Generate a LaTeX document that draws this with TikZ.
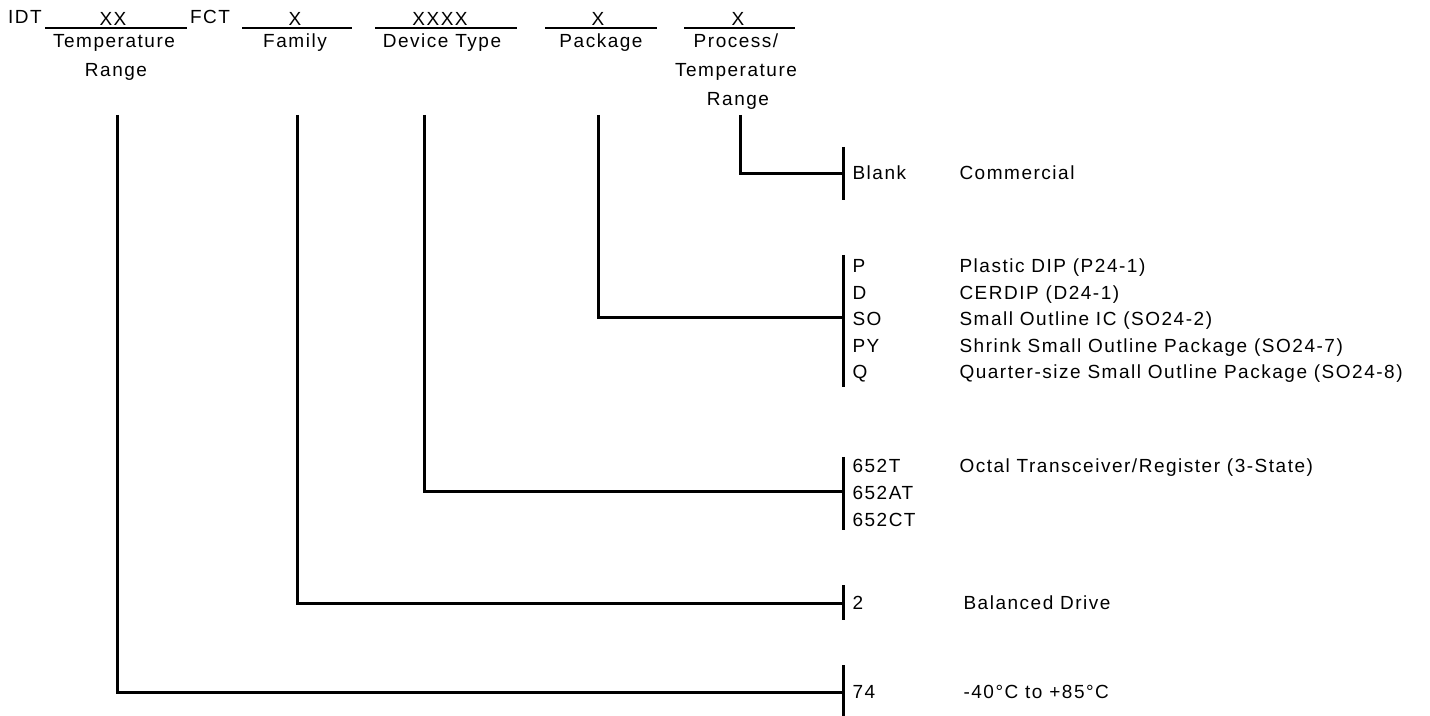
\documentclass[tikz,border=0pt]{standalone}
\usepackage{fontspec}
\setmainfont{Liberation Sans}[LetterSpace=8]
\usepackage{tikz}
\usetikzlibrary{positioning,calc}

\begin{document}
\begin{tikzpicture}[x=0.5pt, y=-0.5pt, font=\fontsize{9.5}{12}\selectfont, line width=1.5pt,
  txt/.style={anchor=base, inner sep=0pt},
  code/.style={anchor=base west, inner sep=0pt},
  uline/.style={line width=1pt},
  wire/.style={line width=1.5pt}]
\useasboundingbox (0,0) rectangle (1430,716);
%% part number fields
\node[txt] (idt) at (25,24) {IDT};
\node[txt] (fct) at (210,24) {FCT};
\draw[uline] (45,28) -- (187,28);
\draw[uline] (242,28) -- (352,28);
\draw[uline] (375,28) -- (517,28);
\draw[uline] (545,28) -- (657,28);
\draw[uline] (684,28) -- (795,28);
\node[txt] (fTR) at (113,26) {XX};
\node[txt] (fFam) at (295,26) {X};
\node[txt] (fDev) at (440,26) {XXXX};
\node[txt] (fPkg) at (598,26) {X};
\node[txt] (fProc) at (738,26) {X};
\node[txt] (lTR1) at (114,48) {Temperature};
\node[txt] (lTR2) at (116,77) {Range};
\node[txt] (lFam) at (295,48) {Family};
\node[txt] (lDev) at (442,48) {Device Type};
\node[txt] (lPkg) at (601,48) {Package};
\node[txt] (lProc1) at (736,48) {Process/};
\node[txt] (lProc2) at (736,77) {Temperature};
\node[txt] (lProc3) at (738,106) {Range};
%% drops and brackets
\coordinate (vTR) at (117,115);
\coordinate (vFam) at (297,115);
\coordinate (vDev) at (424,115);
\coordinate (vPkg) at (598,115);
\coordinate (vProc) at (740,115);
\coordinate (kProc) at (843,174);
\coordinate (kPkg) at (843,318);
\coordinate (kDev) at (843,492);
\coordinate (kFam) at (843,603);
\coordinate (kTR) at (843,692);
\draw[wire] (vProc) |- (kProc);
\draw[wire] (vPkg) |- (kPkg);
\draw[wire] (vDev) |- (kDev);
\draw[wire] (vFam) |- (kFam);
\draw[wire] (vTR) |- (kTR);
\draw[wire] ($(kProc)+(0,-27)$) -- ($(kProc)+(0,26)$);
\draw[wire] ($(kPkg)+(0,-63)$) -- ($(kPkg)+(0,69)$);
\draw[wire] ($(kDev)+(0,-35)$) -- ($(kDev)+(0,38)$);
\draw[wire] ($(kFam)+(0,-18)$) -- ($(kFam)+(0,17)$);
\draw[wire] ($(kTR)+(0,-27)$) -- ($(kTR)+(0,27)$);
%% codes
\node[code] (cBlank) at (851,180) {Blank};
\node[code] (dBlank) at (958,180) {Commercial};
\node[code] (cP) at (851,273) {P};
\node[code] (dP) at (958,273) {Plastic DIP (P24-1)};
\node[code] (cD) at (851,299.5) {D};
\node[code] (dD) at (958,299.5) {CERDIP (D24-1)};
\node[code] (cSO) at (851,326) {SO};
\node[code] (dSO) at (958,326) {Small Outline IC (SO24-2)};
\node[code] (cPY) at (851,352.5) {PY};
\node[code] (dPY) at (958,352.5) {Shrink Small Outline Package (SO24-7)};
\node[code] (cQ) at (851,379) {Q};
\node[code] (dQ) at (958,379) {Quarter-size Small Outline Package (SO24-8)};
\node[code] (c652T) at (851,473) {652T};
\node[code] (d652T) at (958,473) {Octal Transceiver/Register (3-State)};
\node[code] (c652AT) at (851,499.5) {652AT};
\node[code] (c652CT) at (851,526) {652CT};
\node[code] (c2) at (851,609) {2};
\node[code] (d2) at (962,609) {Balanced Drive};
\node[code] (c74) at (851,698) {74};
\node[code] (d74) at (962,698) {-40°C to +85°C};
\end{tikzpicture}
\end{document}
